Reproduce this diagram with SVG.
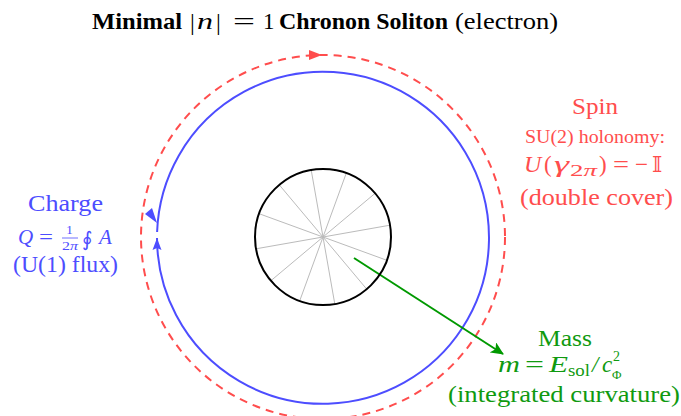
<svg xmlns="http://www.w3.org/2000/svg" width="681" height="416" viewBox="0 0 681 416">
<style>
text{font-family:"Liberation Serif","DejaVu Serif",serif;}
.b{font-weight:bold;}
.i{font-style:italic;}
.blue{fill:#4d4dff;}
.red{fill:#ff4d4d;}
.green{fill:#109a10;}
.spoke{stroke:#bbbbbb;stroke-width:1;}
</style>
<defs>
<marker id="ag" markerWidth="14" markerHeight="12" refX="12" refY="6" orient="auto" markerUnits="userSpaceOnUse">
<path d="M0,0 L13,6 L0,12 L3,6 Z" fill="#009900"/>
</marker>
</defs>
<rect width="681" height="416" fill="#ffffff"/>

<g id="title">
<text class="b" x="92" y="29" font-size="23" textLength="90" lengthAdjust="spacingAndGlyphs">Minimal</text>
<text x="190" y="30" font-size="24">|</text>
<text class="i" x="197" y="29" font-size="23" textLength="16" lengthAdjust="spacingAndGlyphs">n</text>
<text x="216" y="30" font-size="24">|</text>
<text x="233" y="29" font-size="23" textLength="22" lengthAdjust="spacingAndGlyphs">=</text>
<text x="263" y="29" font-size="23">1</text>
<text class="b" x="279" y="29" font-size="23" textLength="169" lengthAdjust="spacingAndGlyphs">Chronon Soliton</text>
<text x="455" y="29" font-size="23" textLength="103" lengthAdjust="spacingAndGlyphs">(electron)</text>
</g>

<g id="connectors">
<circle cx="323" cy="237" r="182" fill="none" stroke="#ff4d4d" stroke-width="2" stroke-dasharray="8,6"/>
<path d="M309,50 L322,55 L309,60 Z" fill="#ff4d4d"/>
<path d="M157,238 A166,166 0 1 0 157.1,232" fill="none" stroke="#4d4dff" stroke-width="2"/>
<path d="M145,214 L157,223 L152,208 Z" fill="#4d4dff"/>
<path d="M157,238 L161.5,250 L157,248 L152.5,250 Z" fill="#4d4dff"/>
<line x1="354" y1="258" x2="503" y2="354" stroke="#009900" stroke-width="2" marker-end="url(#ag)"/>
</g>

<g id="core">
<g class="spoke">
<line x1="323" y1="237" x2="390" y2="225.2"/>
<line x1="323" y1="237" x2="375.1" y2="193.3"/>
<line x1="323" y1="237" x2="346.3" y2="173.1"/>
<line x1="323" y1="237" x2="311.2" y2="170"/>
<line x1="323" y1="237" x2="279.3" y2="184.9"/>
<line x1="323" y1="237" x2="259.1" y2="213.7"/>
<line x1="323" y1="237" x2="256" y2="248.8"/>
<line x1="323" y1="237" x2="270.9" y2="280.7"/>
<line x1="323" y1="237" x2="299.7" y2="300.9"/>
<line x1="323" y1="237" x2="334.8" y2="304"/>
<line x1="323" y1="237" x2="366.7" y2="289.1"/>
<line x1="323" y1="237" x2="386.9" y2="260.3"/>
</g>
<circle cx="323" cy="237" r="68" fill="none" stroke="#000000" stroke-width="2"/>
</g>

<g id="charge">
<text class="blue" x="28" y="211" font-size="23" textLength="75" lengthAdjust="spacingAndGlyphs">Charge</text>
<text class="blue i" x="18" y="244" font-size="21">Q</text>
<text class="blue" x="39" y="244" font-size="20" textLength="14" lengthAdjust="spacingAndGlyphs">=</text>
<text class="blue" x="69.5" y="234" font-size="13" text-anchor="middle">1</text>
<line x1="62" y1="238" x2="78" y2="238" stroke="#4d4dff" stroke-width="0.8"/>
<text class="blue" x="62" y="250" font-size="13" textLength="16" lengthAdjust="spacingAndGlyphs">2<tspan font-style="italic">π</tspan></text>
<text class="blue" x="82" y="246" font-size="20" style="font-family:'DejaVu Serif',serif">∮</text>
<text class="blue i" x="99" y="244" font-size="21">A</text>
<text class="blue" x="13" y="272" font-size="23" textLength="105" lengthAdjust="spacingAndGlyphs">(U(1) flux)</text>
</g>

<g id="spin">
<text class="red" x="572" y="114" font-size="23" textLength="46" lengthAdjust="spacingAndGlyphs">Spin</text>
<text class="red" x="525" y="143" font-size="18" textLength="140" lengthAdjust="spacingAndGlyphs">SU(2) holonomy:</text>
<text class="red i" x="524" y="172" font-size="24">U</text>
<text class="red" x="544" y="172" font-size="23">(</text>
<text class="red i" x="554" y="172" font-size="23" textLength="15" lengthAdjust="spacingAndGlyphs">γ</text>
<text class="red" x="570" y="176" font-size="16" textLength="27" lengthAdjust="spacingAndGlyphs">2<tspan font-style="italic">π</tspan></text>
<text class="red" x="599" y="172" font-size="23">)</text>
<text class="red" x="613" y="172" font-size="23" textLength="16" lengthAdjust="spacingAndGlyphs">=</text>
<text class="red" x="635" y="172" font-size="23" textLength="13" lengthAdjust="spacingAndGlyphs">−</text>
<text class="red" x="652" y="172" font-size="22" style="font-family:'DejaVu Serif','DejaVu Sans',serif">𝕀</text>
<text class="red" x="520" y="205" font-size="23" textLength="153" lengthAdjust="spacingAndGlyphs">(double cover)</text>
</g>

<g id="mass">
<text class="green" x="538" y="346" font-size="23" textLength="54" lengthAdjust="spacingAndGlyphs">Mass</text>
<text class="green i" x="498" y="372" font-size="23" textLength="22" lengthAdjust="spacingAndGlyphs">m</text>
<text class="green" x="525" y="372" font-size="23" textLength="19" lengthAdjust="spacingAndGlyphs">=</text>
<text class="green i" x="549" y="372" font-size="23" textLength="19" lengthAdjust="spacingAndGlyphs">E</text>
<text class="green" x="568" y="376" font-size="16" textLength="22" lengthAdjust="spacingAndGlyphs">sol</text>
<text class="green i" x="592" y="372" font-size="23">/</text>
<text class="green i" x="602" y="372" font-size="23">c</text>
<text class="green" x="613" y="361" font-size="14">2</text>
<text class="green" x="612" y="379" font-size="13">Φ</text>
<text class="green" x="448" y="402" font-size="23" textLength="232" lengthAdjust="spacingAndGlyphs">(integrated curvature)</text>
</g>
</svg>
